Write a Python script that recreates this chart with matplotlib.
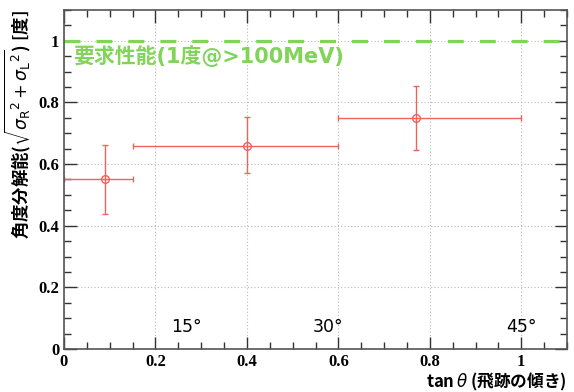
import matplotlib
matplotlib.use("Agg")
import matplotlib.pyplot as plt
from matplotlib.ticker import MultipleLocator

# data
tan_theta = [0.09, 0.40, 0.77]
x_lo = [0.0, 0.15, 0.60]
x_hi = [0.15, 0.60, 1.00]
resolution = [0.55, 0.66, 0.75]
res_err_up = [0.113, 0.092, 0.105]
res_err_dn = [0.112, 0.088, 0.105]
requirement = 1.0
angle_labels = ["15°", "30°", "45°"]
angle_pos = [0.268, 0.577, 1.0]
tick_vals = [0, 0.2, 0.4, 0.6, 0.8, 1.0]
tick_labels = ["0", "0.2", "0.4", "0.6", "0.8", "1"]

red = "#f0625c"
green = "#80d458"
cjk = ["Noto Sans CJK JP", "DejaVu Sans"]
latin_first = ["DejaVu Sans", "Noto Sans CJK JP"]
plt.rcParams["font.family"] = cjk
plt.rcParams["mathtext.fontset"] = "dejavusans"


def main():
    fig = plt.figure(figsize=(5.74, 3.92), dpi=100)
    ax = fig.add_axes([64 / 574, 43 / 392, 503 / 574, 339 / 392])

    xerr = [[t - lo for t, lo in zip(tan_theta, x_lo)],
            [hi - t for t, hi in zip(tan_theta, x_hi)]]
    ax.errorbar(tan_theta, resolution, xerr=xerr, yerr=[res_err_dn, res_err_up],
                fmt="o", mfc="none", mec=red, ms=5.5, color=red, ecolor=red,
                elinewidth=1, capsize=2, mew=1)

    ax.axhline(requirement, color=green, lw=2.3, dashes=(5, 5))
    ax.text(0.02, 0.985, "要求性能(1度@>100MeV)", color=green, fontsize=15,
            fontweight="bold", va="top", ha="left", family=latin_first)

    for lab, pos in zip(angle_labels, angle_pos):
        ax.text(pos, 0.07, lab, ha="center", va="center", fontsize=12.5,
                family=["DejaVu Sans"])

    ax.set_xlim(0, 1.1)
    ax.set_ylim(0, 1.1)
    ax.xaxis.set_minor_locator(MultipleLocator(0.05))
    ax.yaxis.set_minor_locator(MultipleLocator(0.05))
    ax.set_xticks(tick_vals)
    ax.set_xticklabels(tick_labels, fontfamily="Liberation Serif",
                       fontweight="bold", fontsize=12)
    ax.set_yticks(tick_vals)
    ax.set_yticklabels(tick_labels, fontfamily="Liberation Serif",
                       fontweight="bold", fontsize=12)
    ax.tick_params(which="both", direction="in", top=True, right=True,
                   color="#333333")
    ax.tick_params(which="major", length=9, width=1)
    ax.tick_params(which="minor", length=5, width=1)
    ax.grid(True, which="major", ls=(0, (1, 2)), color="#bbbbbb", lw=0.8)
    for sp in ax.spines.values():
        sp.set_color("#555555")
        sp.set_linewidth(1.2)

    ax.set_xlabel(r"tan$\,\theta$ (飛跡の傾き)", fontsize=12, fontweight="bold",
                  loc="right", labelpad=0.5)
    ax.set_ylabel(r"角度分解能($\sqrt{\sigma_{\rm R}{}^2+\sigma_{\rm L}{}^2}$) [度]",
                  fontsize=12.5, fontweight="bold", loc="top", labelpad=4)

    fig.savefig("out.png", dpi=100)


if __name__ == "__main__":
    main()
